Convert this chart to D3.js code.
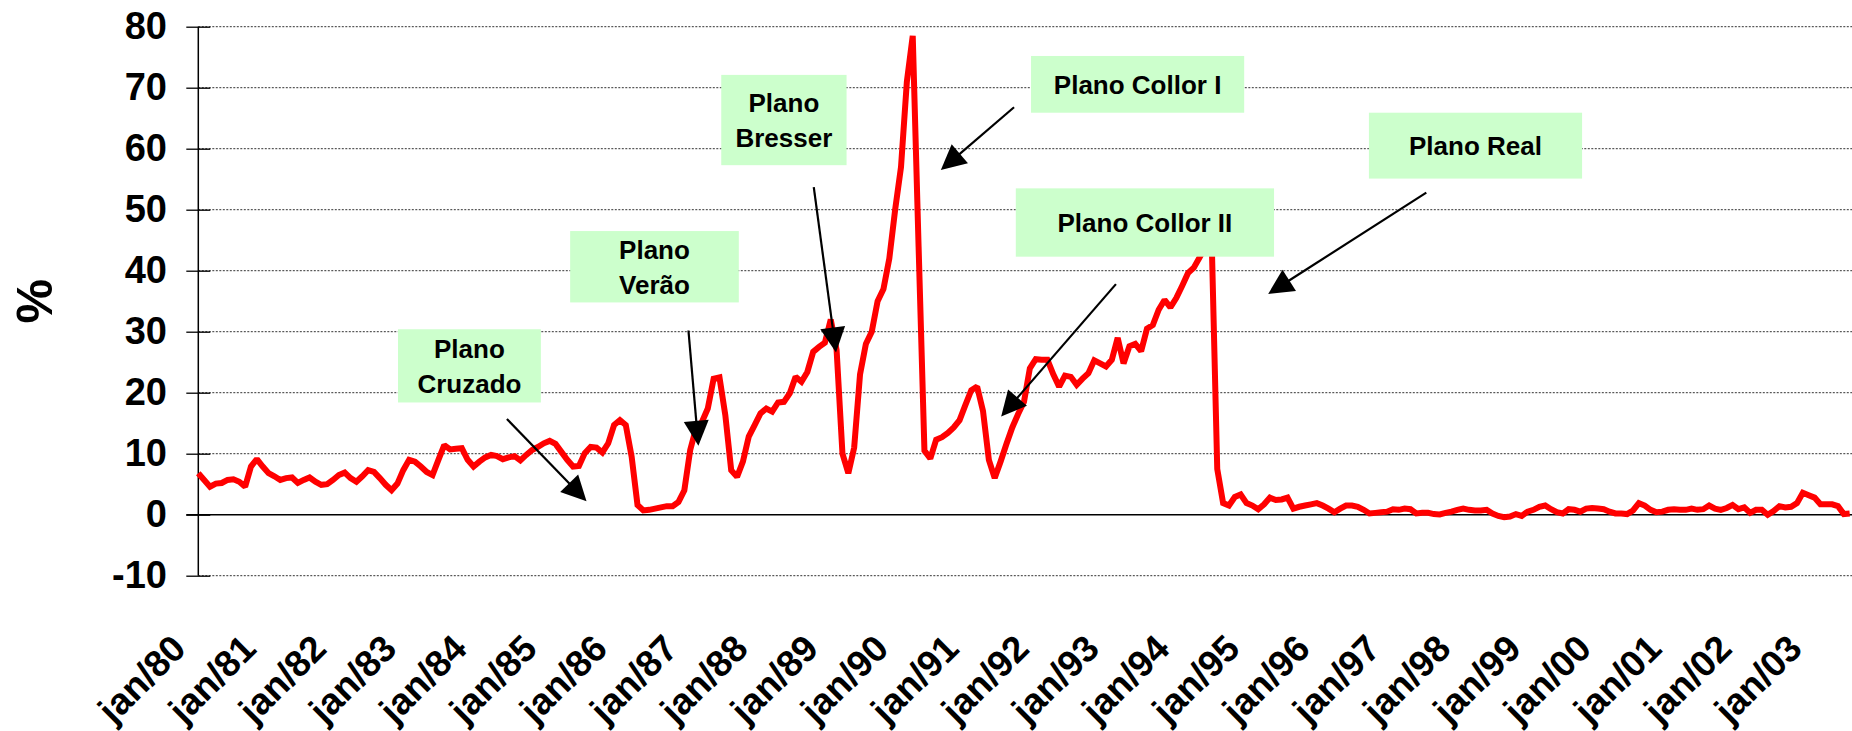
<!DOCTYPE html>
<html><head><meta charset="utf-8">
<script src="https://cdn.jsdelivr.net/npm/d3@7"></script>
<style>
html,body{margin:0;padding:0;background:#fff;}
svg{display:block;font-family:Arial,"Liberation Sans",Helvetica,sans-serif;}
</style></head><body>
<svg id="chart" width="1852" height="731"></svg>
<script>
// ---------- DATA ----------
const monthAbbr = ["jan","fev","mar","abr","mai","jun","jul","ago","set","out","nov","dez"];

// monthly inflation (%), jan/80 - dez/89
const inflation80s = [
  6.8, 5.7, 4.6, 5.1, 5.2, 5.7, 5.8, 5.4, 4.6, 7.9, 9.1, 7.9,
  6.8, 6.3, 5.7, 6.0, 6.1, 5.2, 5.7, 6.1, 5.4, 4.9, 5.0, 5.7,
  6.5, 6.9, 6.0, 5.4, 6.3, 7.3, 7.0, 6.0, 4.9, 4.0, 5.1, 7.3,
  9.0, 8.7, 7.9, 7.0, 6.5, 9.0, 11.4, 10.7, 10.8, 10.9, 9.0, 7.9,
  8.7, 9.4, 9.8, 9.6, 9.1, 9.4, 9.6, 8.9, 9.8, 10.6, 11.1, 11.7,
  12.1, 11.6, 10.3, 9.0, 7.9, 8.0, 10.1, 11.1, 11.0, 10.2, 11.7, 14.7,
  15.5, 14.7, 9.5, 1.6, 0.7, 0.8, 1.0, 1.2, 1.4, 1.4, 2.1, 4.0,
  10.6, 14.2, 15.2, 17.4, 22.3, 22.5, 16.3, 7.3, 6.2, 8.7, 12.8, 14.7,
  16.6, 17.4, 16.9, 18.4, 18.5, 19.9, 22.6, 21.8, 23.4, 26.7, 27.5, 28.2,
  32.0, 27.0, 10.0, 6.8, 11.0, 23.0, 28.0, 30.0, 35.0, 37.0, 42.0, 50.0
];
// jan/90 - jun/94
const inflation90s = [
  57.0, 71.0, 78.5, 44.0, 10.5, 9.2, 12.3, 12.7, 13.4, 14.3, 15.5, 18.0,
  20.4, 21.0, 17.0, 9.0, 6.0, 8.7, 11.6, 14.3, 16.5, 18.5, 24.0, 25.5,
  25.4, 25.4, 23.0, 21.0, 22.8, 22.6, 21.3, 22.3, 23.2, 25.3, 24.8, 24.3,
  25.4, 29.0, 24.8, 27.6, 28.0, 26.8, 30.5, 31.1, 33.6, 35.2, 34.0, 35.5,
  37.5, 39.6, 40.5, 42.2, 44.0, 47.0
];
// jul/94 - jul/03 (Plano Real)
const inflationReal = [
  7.5, 1.9, 1.5, 2.9, 3.3, 1.9,
  1.5, 0.9, 1.7, 2.8, 2.4, 2.5, 2.8, 1.0, 1.3, 1.5, 1.7, 1.9,
  1.5, 1.0, 0.4, 1.0, 1.5, 1.5, 1.3, 0.8, 0.2, 0.3, 0.4, 0.5,
  0.9, 0.8, 1.0, 0.9, 0.2, 0.3, 0.3, 0.1, 0.05, 0.3, 0.5, 0.8,
  1.0, 0.8, 0.7, 0.7, 0.8, 0.2, -0.2, -0.4, -0.3, 0.1, -0.2, 0.5,
  0.8, 1.3, 1.5, 0.9, 0.4, 0.2, 0.9, 0.8, 0.5, 1.0, 1.1, 1.0,
  0.9, 0.5, 0.2, 0.2, 0.1, 0.7, 1.9, 1.5, 0.8, 0.4, 0.5, 0.8,
  0.9, 0.8, 0.8, 1.0, 0.8, 0.9, 1.5, 1.0, 0.8, 1.1, 1.6, 0.9,
  1.2, 0.3, 0.8, 0.8, 0.0, 0.6, 1.4, 1.2, 1.3, 1.9, 3.6, 3.2,
  2.8, 1.7, 1.7, 1.7, 1.4, 0.1, 0.2
];

const tickLabels = ["jan/80","jan/81","jan/82","jan/83","jan/84","jan/85","jan/86","jan/87",
  "jan/88","jan/89","jan/90","jan/91","jan/92","jan/93","jan/94","jan/95","jan/96","jan/97",
  "jan/98","jan/99","jan/00","jan/01","jan/02","jan/03"];
const yTicks = [-10, 0, 10, 20, 30, 40, 50, 60, 70, 80];
const yTickLabels = ["-10", "0", "10", "20", "30", "40", "50", "60", "70", "80"];
const yTitle = "%";

// annotation boxes: text lines + corners in data units (month index, %)
const planLabels = [
  ["Plano", "Cruzado"], ["Plano", "Verão"], ["Plano", "Bresser"],
  ["Plano Collor I"], ["Plano Collor II"], ["Plano Real"]
];
const planBoxes = [
  [34.1, 30.4, 58.5, 18.4], [63.5, 46.5, 92.3, 34.8], [89.3, 72.1, 110.7, 57.3],
  [142.2, 75.2, 178.6, 65.9], [139.6, 53.5, 183.7, 42.3], [199.9, 65.9, 236.3, 55.1]
];
const planArrows = [
  [52.7, 15.7, 66.3, 2.2], [83.7, 30.2, 85.4, 11.3], [105.1, 53.7, 108.9, 26.6],
  [139.3, 66.8, 126.8, 56.5], [156.7, 37.8, 137.1, 16.1], [209.7, 52.8, 182.7, 36.2]
];

// ---------- BUILD ----------
const values = inflation80s.concat(inflation90s, inflationReal);
const categories = values.map((v, i) =>
  monthAbbr[i % 12] + "/" + String((80 + Math.floor(i / 12)) % 100).padStart(2, "0"));
const series = categories.map((c, i) => ({cat: c, v: values[i]}));

const svg = d3.select("#chart");
const W = 1852, H = 731;
const left = 198.3, step = 5.856;
const right = left + step * (categories.length - 1);

const x = d3.scalePoint().domain(categories).range([left, right]);
const xi = d3.scaleLinear().domain([0, categories.length - 1]).range([left, right]);
const y = d3.scaleLinear().domain([-10, 80]).range([575.7, 26.7]);

// gridlines
svg.append("g").selectAll("line").data(yTicks.filter(t => t !== 0)).join("line")
  .attr("x1", left).attr("x2", W)
  .attr("y1", d => y(d)).attr("y2", d => y(d))
  .attr("stroke", "#333").attr("stroke-width", 1).attr("stroke-dasharray", "2,1.5");

// y axis
const yAxis = svg.append("g").attr("transform", `translate(${left},0)`)
  .call(d3.axisLeft(y).tickValues(yTicks).tickSize(12).tickPadding(19.3)
    .tickFormat((d, i) => yTickLabels[i]));
yAxis.select(".domain").remove();
yAxis.selectAll(".tick line").attr("x1", -12).attr("x2", 12).attr("stroke", "#000").attr("stroke-width", 1.3);
yAxis.selectAll(".tick text").attr("font-size", 38).attr("font-weight", "bold")
  .attr("font-family", "Arial, 'Liberation Sans', sans-serif").attr("fill", "#000");
svg.append("line").attr("x1", left).attr("x2", left).attr("y1", y(80)).attr("y2", y(-10))
  .attr("stroke", "#000").attr("stroke-width", 1.5);

// zero line
svg.append("line").attr("x1", left - 12).attr("x2", W).attr("y1", y(0)).attr("y2", y(0))
  .attr("stroke", "#000").attr("stroke-width", 1.5);

// x axis labels
const janCats = categories.filter(c => c.startsWith("jan"));
const xAxis = svg.append("g").attr("transform", `translate(0,${y(-10)})`)
  .call(d3.axisBottom(x).tickValues(janCats).tickSize(0)
    .tickFormat((d, i) => tickLabels[i]));
xAxis.select(".domain").remove();
xAxis.selectAll(".tick text")
  .attr("x", 0).attr("y", 0).attr("dy", 0)
  .attr("text-anchor", "end")
  .attr("transform", "translate(-11,75) rotate(-45)")
  .attr("font-size", 37).attr("font-weight", "bold")
  .attr("font-family", "Arial, 'Liberation Sans', sans-serif").attr("fill", "#000");

// y title
svg.append("text").attr("transform", `translate(34,${y(35)}) rotate(-90)`)
  .attr("text-anchor", "middle").attr("dy", "0.35em")
  .attr("font-size", 50).attr("font-weight", "bold").text(yTitle);

// line
svg.append("path").datum(series)
  .attr("fill", "none").attr("stroke", "#FF0000").attr("stroke-width", 6)
  .attr("stroke-linejoin", "miter").attr("stroke-miterlimit", 1.6)
  .attr("d", d3.line().x(d => x(d.cat)).y(d => y(d.v)));

// annotation boxes
const ann = svg.append("g");
planBoxes.forEach((b, k) => {
  const x0 = xi(b[0]), x1 = xi(b[2]), y0 = y(b[1]), y1 = y(b[3]);
  ann.append("rect").attr("x", x0).attr("y", y0).attr("width", x1 - x0).attr("height", y1 - y0)
    .attr("fill", "#CCFFCC");
  const lines = planLabels[k];
  const cx = (x0 + x1) / 2, cy = (y0 + y1) / 2, lh = 35, fs = 26;
  lines.forEach((t, j) => {
    ann.append("text").attr("x", cx)
      .attr("y", cy + (j - (lines.length - 1) / 2) * lh + 0.36 * fs)
      .attr("text-anchor", "middle").attr("font-size", fs).attr("font-weight", "bold")
      .attr("fill", "#000").text(t);
  });
});

// arrows
planArrows.forEach(a => {
  const p0 = [xi(a[0]), y(a[1])], p1 = [xi(a[2]), y(a[3])];
  const dx = p1[0] - p0[0], dy = p1[1] - p0[1], L = Math.hypot(dx, dy);
  const ux = dx / L, uy = dy / L, nx = -uy, ny = ux;
  const hl = 25, hw = 12.5;
  const bx = p1[0] - ux * hl, by = p1[1] - uy * hl;
  ann.append("line").attr("x1", p0[0]).attr("y1", p0[1]).attr("x2", bx + ux * 2).attr("y2", by + uy * 2)
    .attr("stroke", "#000").attr("stroke-width", 2.2);
  ann.append("path")
    .attr("d", `M${p1[0]},${p1[1]}L${bx + nx * hw},${by + ny * hw}L${bx - nx * hw},${by - ny * hw}Z`)
    .attr("fill", "#000");
});
</script>
</body></html>
